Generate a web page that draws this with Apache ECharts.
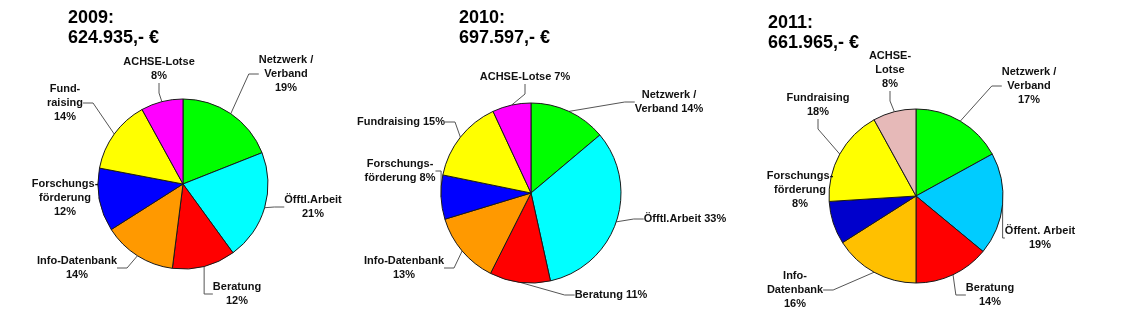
<!DOCTYPE html>
<html>
<head>
<meta charset="utf-8">
<script src="https://cdn.jsdelivr.net/npm/echarts@6/dist/echarts.min.js"></script>
<style>
html,body{margin:0;padding:0;background:#fff;}
#c{width:1140px;height:322px;}
</style>
</head>
<body>
<div id="c"></div>
<script>
// ---- data ----
const years = ['2009', '2010', '2011'];
const totals = ['624.935,- €', '697.597,- €', '661.965,- €'];

const names2009 = ['Netzwerk /\nVerband', 'Öfftl.Arbeit', 'Beratung', 'Info-Datenbank', 'Forschungs-\nförderung', 'Fund-\nraising', 'ACHSE-Lotse'];
const seps2009 = ['\n', '\n', '\n', '\n', '\n', '\n', '\n'];
const values2009 = [19, 21, 12, 14, 12, 14, 8];

const names2010 = ['Netzwerk /\nVerband', 'Öfftl.Arbeit', 'Beratung', 'Info-Datenbank', 'Forschungs-\nförderung', 'Fundraising', 'ACHSE-Lotse'];
const seps2010 = [' ', ' ', ' ', '\n', ' ', ' ', ' '];
const values2010 = [14, 33, 11, 13, 8, 15, 7];

const names2011 = ['Netzwerk /\nVerband', 'Öffent. Arbeit', 'Beratung', 'Info-\nDatenbank', 'Forschungs-\nförderung', 'Fundraising', 'ACHSE-\nLotse'];
const seps2011 = ['\n', '\n', '\n', '\n', '\n', '\n', '\n'];
const values2011 = [17, 19, 14, 16, 8, 18, 8];

// ---- styles / layout ----
const colors2009 = ['#00ff00', '#00ffff', '#ff0000', '#ff9900', '#0000ff', '#ffff00', '#ff00ff'];
const colors2010 = ['#00ff00', '#00ffff', '#ff0000', '#ff9900', '#0000ff', '#ffff00', '#ff00ff'];
const colors2011 = ['#00ff00', '#00ccff', '#ff0000', '#ffc000', '#0000cc', '#ffff00', '#e6b9b8'];

const pieCenters = [[183, 184], [531, 193], [916, 196]];
const pieRadii = [85, 90, 87];
const titlePos = [[68, 8], [459, 8], [768, 13]];
const labelPos = [
  [[286, 74], [313, 207], [237, 294], [77, 268], [65, 198], [65, 103], [159, 69]],
  [[669, 102], [685, 219], [611, 295], [404, 268], [400, 171], [401, 122], [525, 77]],
  [[1029, 86], [1040, 238], [990, 295], [795, 290], [800, 190], [818, 105], [890, 70]]
];
const hiddenLines = [[], [], [4]];

const allNames = [names2009, names2010, names2011];
const allSeps = [seps2009, seps2010, seps2011];
const allValues = [values2009, values2010, values2011];
const allColors = [colors2009, colors2010, colors2011];

const labelFont = '"Liberation Sans", Arial, sans-serif';

const chart = echarts.init(document.getElementById('c'), null, {renderer: 'canvas'});

const series = years.map((y, si) => ({
  type: 'pie',
  center: pieCenters[si],
  radius: pieRadii[si],
  startAngle: 90,
  clockwise: true,
  animation: false,
  silent: true,
  data: allNames[si].map((n, i) => ({
    name: n,
    value: allValues[si][i],
    itemStyle: {color: allColors[si][i]},
    label: {formatter: n + allSeps[si][i] + allValues[si][i] + '%'},
    labelLine: {show: hiddenLines[si].indexOf(i) < 0}
  })),
  itemStyle: {borderColor: '#1a1a1a', borderWidth: 1},
  label: {
    show: true,
    position: 'outside',
    color: '#111',
    fontFamily: labelFont,
    fontWeight: 'bold',
    fontSize: 11,
    lineHeight: 14,
    align: 'center',
    overflow: 'none'
  },
  labelLine: {show: true, lineStyle: {color: '#555', width: 1}, length: 10, length2: 10},
  labelLayout: function (p) {
    const pos = labelPos[si][p.dataIndex];
    return {x: pos[0], y: pos[1], align: 'center', verticalAlign: 'middle', hideOverlap: false, moveOverlap: false};
  }
}));

const title = years.map((y, i) => ({
  text: y + ':\n' + totals[i],
  left: titlePos[i][0],
  top: titlePos[i][1],
  padding: 0,
  textStyle: {
    fontFamily: '"Liberation Sans", Arial, sans-serif',
    fontWeight: 'bold',
    fontSize: 18,
    lineHeight: 20,
    color: '#000'
  }
}));

chart.setOption({
  backgroundColor: '#fff',
  animation: false,
  title: title,
  series: series
});
</script>
</body>
</html>
